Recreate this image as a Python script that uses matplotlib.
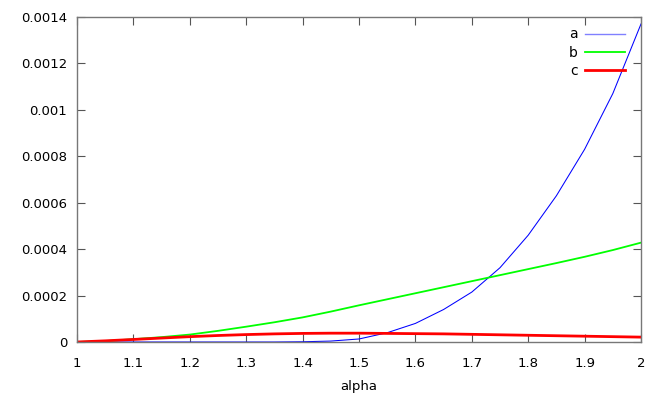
import matplotlib
matplotlib.use("Agg")
import matplotlib.pyplot as plt

# alpha values at 0.05 steps
alpha = [1.00, 1.05, 1.10, 1.15, 1.20, 1.25, 1.30, 1.35, 1.40, 1.45, 1.50,
         1.55, 1.60, 1.65, 1.70, 1.75, 1.80, 1.85, 1.90, 1.95, 2.00]

a_vals = [0, 0, 0, 0, 0, 0, 0, 0, 0.000001, 0.000004, 0.000013,
          0.00004, 0.00008, 0.00014, 0.000215, 0.00032, 0.00046,
          0.00063, 0.00083, 0.00107, 0.00137]

b_vals = [0, 0.000004, 0.000012, 0.000021, 0.000032, 0.000048, 0.000066,
          0.000085, 0.000106, 0.000131, 0.000158, 0.000184, 0.00021,
          0.000236, 0.000262, 0.000288, 0.000314, 0.00034, 0.000367,
          0.000396, 0.000428]

c_vals = [0, 0.000005, 0.000011, 0.000017, 0.000023, 0.000028, 0.000032,
          0.000035, 0.000037, 0.000038, 0.000038, 0.000037, 0.000036,
          0.000035, 0.000033, 0.000031, 0.000029, 0.000027, 0.000025,
          0.000023, 0.000021]

x_ticks = [1, 1.1, 1.2, 1.3, 1.4, 1.5, 1.6, 1.7, 1.8, 1.9, 2]
x_labels = ["1", "1.1", "1.2", "1.3", "1.4", "1.5", "1.6", "1.7", "1.8", "1.9", "2"]
y_ticks = [0, 0.0002, 0.0004, 0.0006, 0.0008, 0.001, 0.0012, 0.0014]
y_labels = ["0", "0.0002", "0.0004", "0.0006", "0.0008", "0.001", "0.0012", "0.0014"]

plt.rcParams["font.family"] = "DejaVu Sans"
plt.rcParams["font.size"] = 9.5

fig = plt.figure(figsize=(6.64, 3.99), dpi=100)
ax = fig.add_axes([77 / 664, 1 - 342 / 399, (641 - 77) / 664, (342 - 17) / 399])

ax.plot(alpha, a_vals, color="#0000ff", lw=0.75, label="a")
ax.plot(alpha, b_vals, color="#00ff00", lw=1.3, label="b")
ax.plot(alpha, c_vals, color="#ff0000", lw=2.0, label="c")

ax.set_xlim(1, 2)
ax.set_ylim(0, 0.0014)
ax.set_xticks(x_ticks)
ax.set_xticklabels(x_labels)
ax.set_yticks(y_ticks)
ax.set_yticklabels(y_labels)
ax.tick_params(direction="in", length=6, width=0.8, color="#555555",
               top=True, right=True, labelsize=9.5)
ax.tick_params(axis="x", pad=11)
ax.tick_params(axis="y", pad=7)
for s in ax.spines.values():
    s.set_color("#777777")
    s.set_linewidth(1.0)

ax.set_xlabel("alpha", fontsize=9.5, labelpad=7)

leg = ax.legend(loc="upper right", frameon=False, markerfirst=False,
                handlelength=2.9, handletextpad=0.5, labelspacing=0.3,
                borderpad=0, borderaxespad=0, fontsize=10,
                bbox_to_anchor=(0.972, 0.968))
# thin blue key looks washed out in the original
leg.get_lines()[0].set_color("#8080ff")
leg.get_lines()[0].set_linewidth(1.0)

fig.savefig("out.png", dpi=100)
